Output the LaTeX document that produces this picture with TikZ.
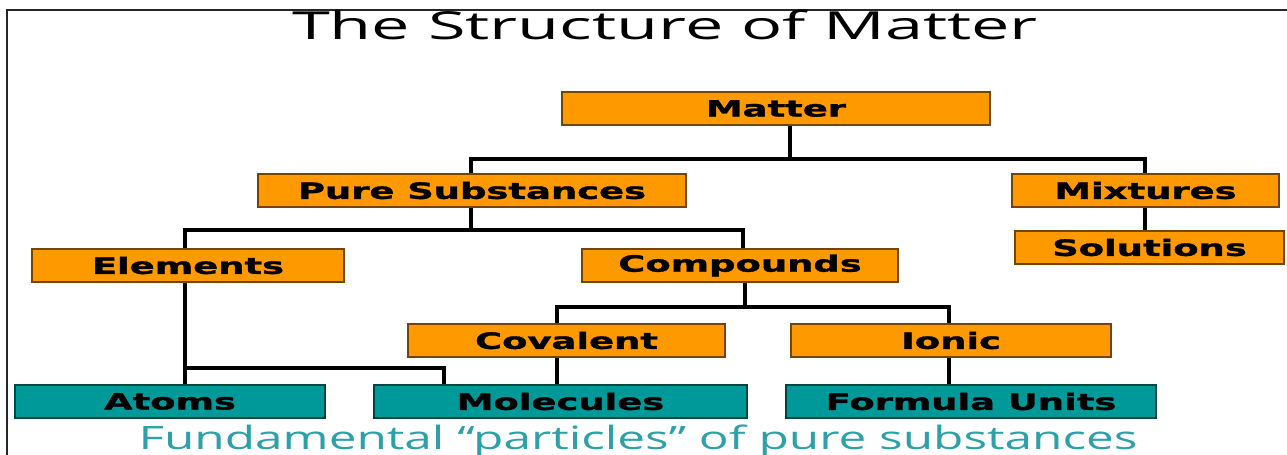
\documentclass[tikz,border=0pt]{standalone}
\usepackage{graphicx}
\usepackage{fontspec}
\setmainfont{Open Sans}
\newfontfamily\boxfont{DejaVu Sans}[BoldFeatures={FakeBold=1.2}]
\usepackage{tikz}
\usetikzlibrary{calc}

\definecolor{orng}{RGB}{255,153,0}
\definecolor{tealbox}{RGB}{0,153,153}
\definecolor{captc}{RGB}{45,160,168}

% stretch text sideways, as in the slide
\newcommand{\wide}[2][1.64]{\scalebox{#1}[1]{#2}}

\begin{document}
\begin{tikzpicture}[
    x=0.02cm, y=-0.02cm,
    font=\boxfont\bfseries\fontsize{12.8}{14}\selectfont,
    sbox/.style n args={2}{
        rectangle, draw=#1!45!black, fill=#1, line width=0.8pt,
        minimum width=#2, minimum height=0.66cm, inner sep=0pt
    },
    conn/.style={line width=1.8pt, black},
    frame/.style={line width=1.4pt, black!85},
]

\useasboundingbox (0,0) rectangle (1287,455);

% ============================================================
% Frame and title
% ============================================================

\draw[frame] (7,455) -- (7,10) -- (1287,10);

\node[anchor=base, font=\fontsize{22}{26}\selectfont] (title) at (665,40)
    {\wide[1.77]{The Structure of Matter}};

% ============================================================
% Boxes
% ============================================================

\node[sbox={orng}{8.56cm}] (matter) at (776,108.5) {\wide{Matter}};

\node[sbox={orng}{8.56cm}] (pure) at (472,190.5) {\wide{Pure Substances}};
\node[sbox={orng}{5.34cm}] (mix) at (1145.5,190.5) {\wide{Mixtures}};
\node[sbox={orng}{5.38cm}] (sol) at (1149.5,247.5) {\wide{Solutions}};

\node[sbox={orng}{6.24cm}] (elem) at (188,265.5) {\wide{Elements}};
\node[sbox={orng}{6.32cm}] (comp) at (740,265.5) {\wide{Compounds}};

\node[sbox={orng}{6.34cm}] (cov) at (566.5,340.5) {\wide{Covalent}};
\node[sbox={orng}{6.40cm}] (ion) at (951,340.5) {\wide{Ionic}};

\node[sbox={tealbox}{6.20cm}] (atoms) at (170,401.5) {\wide{Atoms}};
\node[sbox={tealbox}{7.46cm}] (mol) at (560.5,401.5) {\wide{Molecules}};
\node[sbox={tealbox}{7.40cm}] (fu) at (971,401.5) {\wide{Formula Units}};

\node[anchor=base, font=\fontsize{18.3}{22}\selectfont, text=captc] (capt) at (638,449)
    {\wide[1.54]{Fundamental “particles” of pure substances}};

% ============================================================
% Connectors
% ============================================================

\coordinate (m0) at (790,159);
\coordinate (m1) at (471,159);
\coordinate (m2) at (1145,159);
\draw[conn] (matter.south -| m0) -- (m0);
\draw[conn] (pure.north -| m1) -- (m1) -- (m2) -- (mix.north -| m2);
\draw[conn] (mix.south -| m2) -- (sol.north -| m2);

\coordinate (p0) at (471,230);
\coordinate (p1) at (185,230);
\coordinate (p2) at (743,230);
\draw[conn] (pure.south -| p0) -- (p0);
\draw[conn] (elem.north -| p1) -- (p1) -- (p2) -- (comp.north -| p2);

\coordinate (k0) at (745,307);
\coordinate (k1) at (557,307);
\coordinate (k2) at (949,307);
\draw[conn] (comp.south -| k0) -- (k0);
\draw[conn] (cov.north -| k1) -- (k1) -- (k2) -- (ion.north -| k2);
\draw[conn] (cov.south -| k1) -- (mol.north -| k1);
\draw[conn] (ion.south -| k2) -- (fu.north -| k2);

\coordinate (e1) at (185,368);
\coordinate (e2) at (444,368);
\draw[conn] (elem.south -| e1) -- (atoms.north -| e1);
\draw[conn] (e1) -- (e2) -- (mol.north -| e2);

\end{tikzpicture}
\end{document}
